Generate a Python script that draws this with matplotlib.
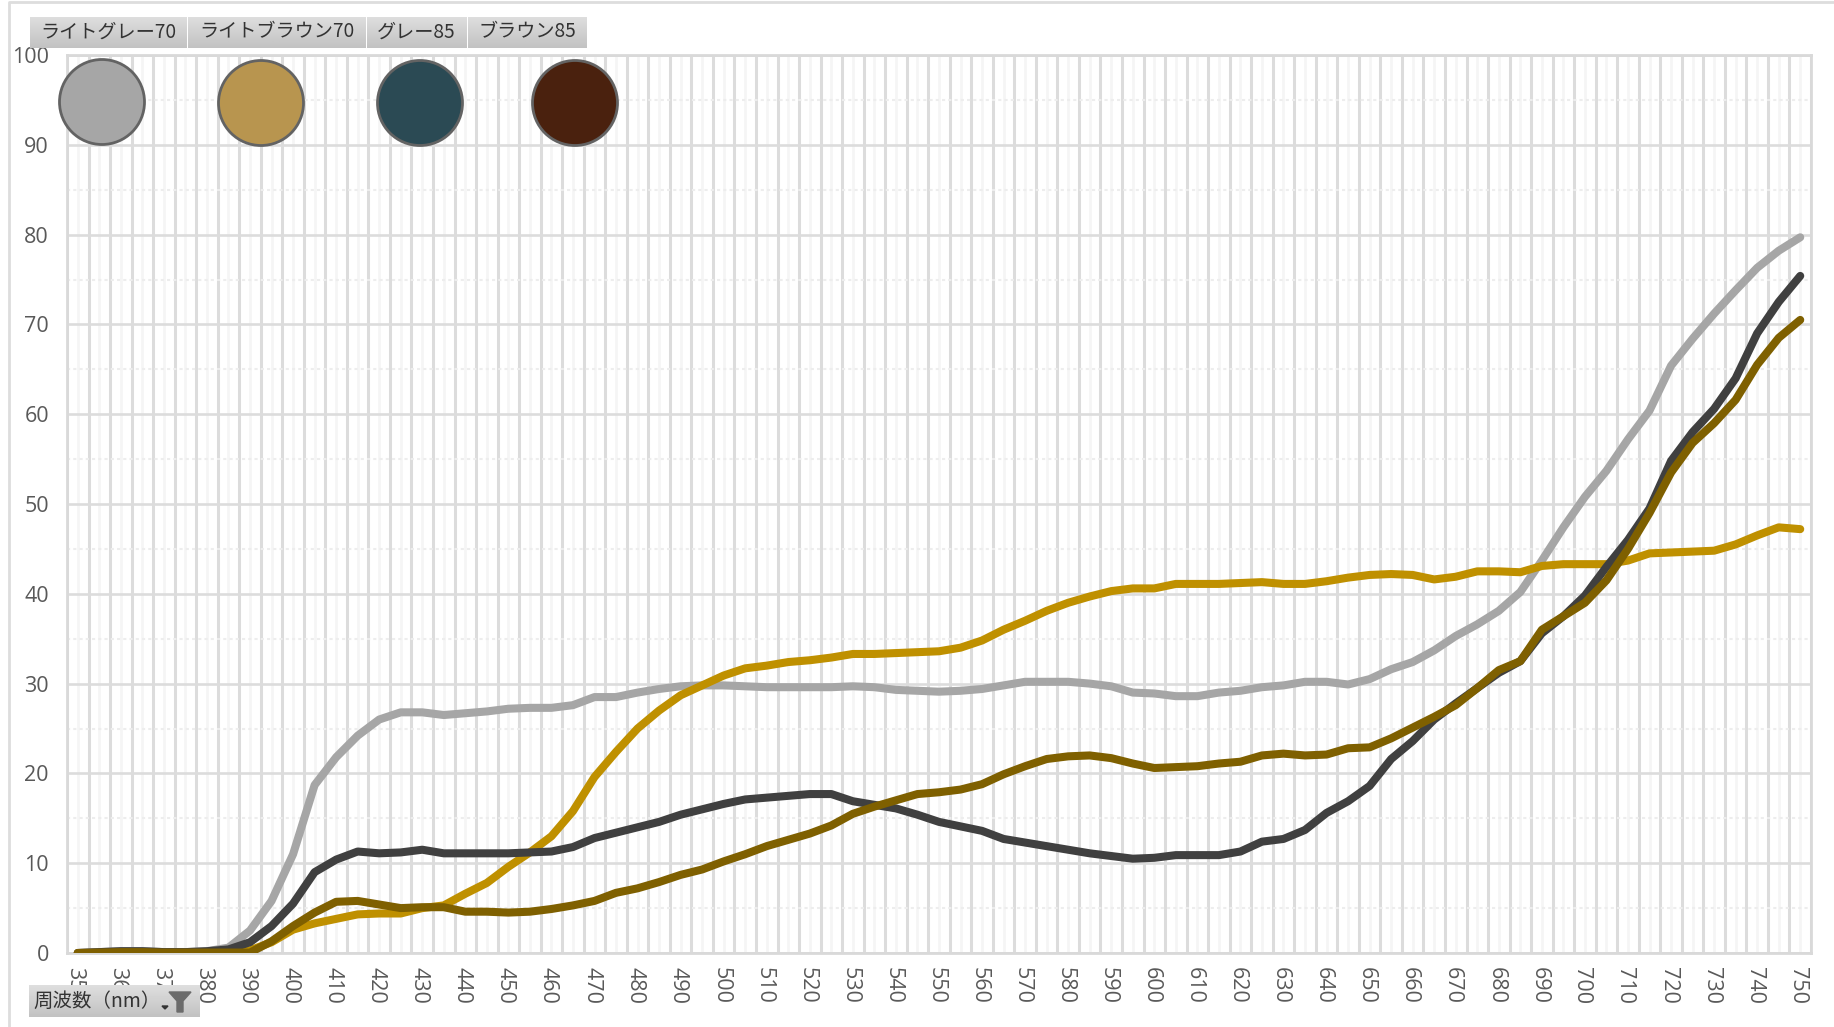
import numpy as np
import matplotlib
matplotlib.use("Agg")
import matplotlib.pyplot as plt
from matplotlib.patches import Circle, Polygon
from matplotlib.transforms import ScaledTranslation

W, H = 1834, 1027
wavelengths = list(range(350, 755, 5))
light_gray_70 = [0,.1,.2,.2,.1,.1,.2,.6,2.5,5.8,11,18.7,21.8,24.2,26,26.8,26.8,26.5,26.7,26.9,27.2,27.3,27.3,27.6,28.5,28.5,29,29.4,29.7,29.8,29.8,29.7,29.6,29.6,29.6,29.6,29.7,29.6,29.3,29.2,29.1,29.2,29.4,29.8,30.2,30.2,30.2,30,29.7,29,28.9,28.6,28.6,29,29.2,29.6,29.8,30.2,30.2,29.9,30.5,31.6,32.4,33.7,35.3,36.6,38.1,40.2,43.7,47.4,50.8,53.7,57.2,60.4,65.4,68.4,71.2,73.8,76.3,78.2,79.7]
light_brown_70 = [0,0,0,0,0,0,0,0,.3,1.2,2.6,3.3,3.8,4.3,4.4,4.4,5,5.3,6.6,7.8,9.6,11.2,13,15.8,19.6,22.4,25,27,28.7,29.8,30.9,31.7,32,32.4,32.6,32.9,33.3,33.3,33.4,33.5,33.6,34,34.8,36,37,38.1,39,39.7,40.3,40.6,40.6,41.1,41.1,41.1,41.2,41.3,41.1,41.1,41.4,41.8,42.1,42.2,42.1,41.6,41.9,42.5,42.5,42.4,43.1,43.3,43.3,43.3,43.7,44.5,44.6,44.7,44.8,45.5,46.5,47.4,47.2]
gray_85 = [0,.1,.2,.2,.1,.1,.2,.4,1.2,3,5.5,9,10.4,11.3,11.1,11.2,11.5,11.1,11.1,11.1,11.1,11.2,11.3,11.8,12.8,13.4,14,14.6,15.4,16,16.6,17.1,17.3,17.5,17.7,17.7,16.9,16.5,16.1,15.4,14.6,14.1,13.6,12.7,12.3,11.9,11.5,11.1,10.8,10.5,10.6,10.9,10.9,10.9,11.3,12.4,12.7,13.7,15.6,16.9,18.6,21.6,23.6,26,27.8,29.5,31.2,32.5,35.6,37.5,39.8,43,46,49.5,54.8,58,60.6,64,69,72.5,75.4]
brown_85 = [0,.05,.1,.1,.05,.05,.05,.05,.05,1.3,3,4.5,5.7,5.8,5.4,5,5.1,5.1,4.6,4.6,4.5,4.6,4.9,5.3,5.8,6.7,7.2,7.9,8.7,9.3,10.2,11,11.9,12.6,13.3,14.2,15.5,16.3,17,17.7,17.9,18.2,18.8,19.9,20.8,21.6,21.9,22,21.7,21.1,20.6,20.7,20.8,21.1,21.3,22,22.2,22,22.1,22.8,22.9,23.9,25.1,26.3,27.6,29.5,31.5,32.5,36,37.5,39,41.5,45,49,53.5,56.8,59,61.6,65.5,68.5,70.5]
series_colors = ["#A6A6A6", "#BF9000", "#404040", "#7F6000"]
button_labels = ["ライトグレー70", "ライトブラウン70", "グレー85", "ブラウン85"]
filter_label = "周波数（nm）"

plt.rcParams['font.family'] = ['Open Sans', 'Noto Sans CJK JP', 'DejaVu Sans']
fig = plt.figure(figsize=(W/100, H/100), dpi=100, facecolor="white")
L, R, T, B = 67, 1811, 55, 953
ax = fig.add_axes([L/W, 1-B/H, (R-L)/W, (B-T)/H])
ax.set_xlim(347.5, 752.5)
ax.set_ylim(0, 100)
for s in ax.spines.values():
    s.set_color("#D9D9D9"); s.set_linewidth(2)
ax.set_axisbelow(True)
ax.set_xticks(np.arange(350, 751, 10))
ax.set_xticks(np.arange(347.5, 753, 5), minor=True)
ax.set_yticks(np.arange(0, 101, 10))
ax.set_yticks(np.arange(5, 100, 10), minor=True)
ax.grid(False)
for m in np.arange(350, 751, 5):
    ax.axvline(m, color="#F5F5F5", lw=2, zorder=0.5)
ax.grid(which="minor", axis="x", color="#DCDCDC", lw=2.2, zorder=0.8)
ax.grid(which="major", axis="y", color="#DCDCDC", lw=1.9, zorder=0.9)
ax.grid(which="minor", axis="y", color="#EDEDED", lw=1.5, ls=(0, (1.5, 1.5)), zorder=0.9)
ax.tick_params(which="both", length=0)
ax.tick_params(axis="x", labelsize=15.5, labelcolor="#595959", pad=10, labelrotation=270)
ax.tick_params(axis="y", labelsize=15.5, labelcolor="#595959", pad=13)
shift = ScaledTranslation(-3/100, 0, fig.dpi_scale_trans)
for lab in ax.get_xticklabels():
    lab.set_transform(lab.get_transform() + shift)
for v, c in zip([light_gray_70, light_brown_70, gray_85, brown_85], series_colors):
    ax.plot(wavelengths, v, color=c, lw=5.8, solid_capstyle="round", solid_joinstyle="round", zorder=3)

ov = fig.add_axes([0, 0, 1, 1], facecolor="none")
ov.set_xlim(0, W); ov.set_ylim(H, 0); ov.axis("off")
ov.plot([9, 9, W], [H, 2, 2], color="#DDDDDD", lw=2)
grad = np.linspace(0.87, 0.76, 32).reshape(-1, 1)
def button(x0, x1, y0, y1):
    ov.imshow(grad, extent=[x0, x1, y1, y0], cmap="gray", vmin=0, vmax=1, aspect="auto", zorder=2)
edges = [29, 187, 366, 467, 587]
for i, t in enumerate(button_labels):
    button(edges[i]+.8, edges[i+1]-.8, 17, 48)
    ov.text((edges[i]+edges[i+1])/2, 32, t, ha="center", va="center", fontsize=13.8, color="#333333",
            family=['Noto Sans CJK JP', 'DejaVu Sans'], zorder=3)
button(29, 200, 985, 1017)
ov.text(33, 1001, filter_label, ha="left", va="center", fontsize=14, color="#333333",
        family=['Noto Sans CJK JP', 'DejaVu Sans'], zorder=3)
ov.add_patch(Polygon([(169, 992), (191, 992), (183, 1001), (183, 1012), (177, 1012), (177, 1001)], color="#6B6B6B", zorder=3))
ov.add_patch(Polygon([(162, 1006), (168, 1006), (165, 1009)], color="#333333", zorder=3))
for cx, cy, c in [(102, 102, "#A6A6A6"), (261, 103, "#B8954F"), (420, 103, "#2B4A54"), (575, 103, "#4A210E")]:
    ov.add_patch(Circle((cx, cy), 42.5, facecolor=c, edgecolor="#636363", lw=2, zorder=4))
ov.set_xlim(0, W); ov.set_ylim(H, 0)
fig.savefig("out.png", dpi=100)
